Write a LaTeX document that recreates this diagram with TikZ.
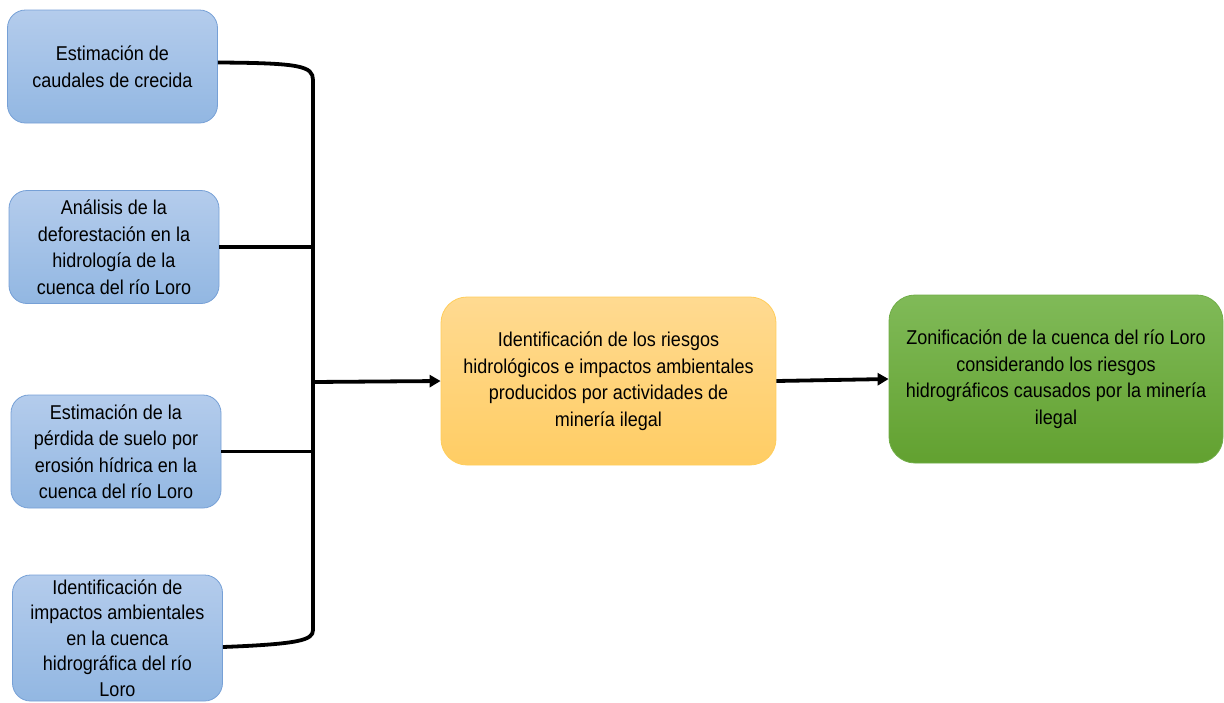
\documentclass[tikz,border=0pt]{standalone}
\usepackage{fontspec}
\setmainfont{Liberation Sans}[FakeStretch=0.9]
\usetikzlibrary{arrows.meta,calc}
\definecolor{bluetop}{RGB}{180,204,236}
\definecolor{bluebot}{RGB}{146,183,226}
\definecolor{blueline}{RGB}{118,160,214}
\definecolor{oratop}{RGB}{255,218,145}
\definecolor{orabot}{RGB}{255,205,100}
\definecolor{oraline}{RGB}{255,205,90}
\definecolor{grntop}{RGB}{128,186,88}
\definecolor{grnbot}{RGB}{98,161,48}
\definecolor{grnline}{RGB}{112,173,71}
\tikzset{
  base/.style={rounded corners=18pt, align=center, inner sep=0pt, line width=0.8pt,
    font=\fontsize{20}{26.5}\selectfont},
  bluebox/.style={base, top color=bluetop, bottom color=bluebot, draw=blueline,
    minimum width=210pt, minimum height=113pt},
  orabox/.style={base, rounded corners=26pt, top color=oratop, bottom color=orabot, draw=oraline,
    minimum width=335pt, minimum height=168pt},
  grnbox/.style={base, rounded corners=26pt, top color=grntop, bottom color=grnbot, draw=grnline,
    minimum width=334pt, minimum height=168pt},
  conn/.style={line width=3.8pt, black},
  arr/.style={conn, -{Triangle[length=11pt,width=12pt]}}
}
\begin{document}
\begin{tikzpicture}[x=1pt,y=-1pt]
\useasboundingbox (0,0) rectangle (1224,702);
\node[bluebox] (b1) at (112.5,66.5) {Estimación de\\caudales de crecida};
\node[bluebox] (b2) at (114,247) {Análisis de la\\deforestación en la\\hidrología de la\\cuenca del río Loro};
\node[bluebox] (b3) at (116,451.5) {Estimación de la\\pérdida de suelo por\\erosión hídrica en la\\cuenca del río Loro};
\node[bluebox, minimum height=126pt, font=\fontsize{20}{25.5}\selectfont] (b4) at (117.5,638) {Identificación de\\impactos ambientales\\en la cuenca\\hidrográfica del río\\Loro};
\node[orabox] (c) at (608.5,381) {Identificación de los riesgos\\hidrológicos e impactos ambientales\\producidos por actividades de\\minería ilegal};
\node[grnbox] (g) at (1056,379) {Zonificación de la cuenca del río Loro\\considerando los riesgos\\hidrográficos causados por la minería\\ilegal};
\coordinate (top) at (313,80);
\coordinate (bot) at (313,630);
\coordinate (mid) at (313,382);
\draw[conn] ($(b1.east)+(0,-4)$) .. controls (300,63) and (313,66) .. (top) -- (bot)
  .. controls (313,640) and (300,644) .. ($(b4.east)+(0,9)$);
\draw[conn] (b2.east) -- (b2.east -| top);
\draw[conn] (b3.east) -- (b3.east -| top);
\draw[arr] (mid) -- (c.west);
\draw[arr] (c.east) -- (g.west);
\end{tikzpicture}
\end{document}
